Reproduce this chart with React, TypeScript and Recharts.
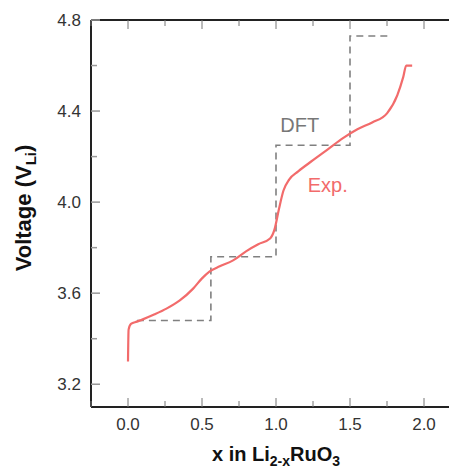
import { LineChart, Line, XAxis, YAxis, ReferenceDot, Label } from "recharts";

// measured curve (Exp.)
const expX = [0, 0.004, 0.02, 0.06, 0.1, 0.18, 0.26, 0.35, 0.44, 0.5, 0.55, 0.62, 0.71, 0.8, 0.88, 0.96, 0.99, 1.02, 1.05, 1.09, 1.15, 1.25, 1.35, 1.45, 1.55, 1.65, 1.75, 1.82, 1.86, 1.88, 1.92];
const expV = [3.3, 3.44, 3.465, 3.475, 3.485, 3.507, 3.532, 3.568, 3.62, 3.665, 3.695, 3.718, 3.744, 3.785, 3.815, 3.84, 3.88, 3.97, 4.05, 4.1, 4.135, 4.184, 4.232, 4.28, 4.32, 4.35, 4.39, 4.47, 4.55, 4.6, 4.6];

// DFT voltage steps
const dftX = [0.06, 0.56, 1.0, 1.5, 1.76];
const dftV = [3.48, 3.76, 4.25, 4.73, 4.73];

const xTicks = [-0.25, 0, 0.25, 0.5, 0.75, 1, 1.25, 1.5, 1.75, 2, 2.25];
const xMajor = [0, 0.5, 1, 1.5, 2];
const yTicks = [3.2, 3.4, 3.6, 3.8, 4.0, 4.2, 4.4, 4.6, 4.8];
const yMajor = [3.2, 3.6, 4.0, 4.4, 4.8];

const expData = expX.map((x, i) => ({ x, v: expV[i] }));
const dftData = dftX.map((x, i) => ({ x, v: dftV[i] }));

const FONT = "'Liberation Sans', Arial, sans-serif";
const RED = "#f26b6b";
const GRAY = "#808080";

const isMajor = (list: number[], v: number) => list.some((m) => Math.abs(m - v) < 1e-6);

const LeftTick = (props: any) => {
  const { x, y, payload } = props;
  const major = isMajor(yMajor, payload.value);
  return (
    <g>
      <line x1={x} x2={x + (major ? 9 : 6)} y1={y} y2={y} stroke="#999" strokeWidth={1.5} />
      {major && (
        <text x={x - 10} y={y} dy={6} textAnchor="end" fontSize={17} fill="#333" fontFamily={FONT}>
          {payload.value.toFixed(1)}
        </text>
      )}
    </g>
  );
};

const RightTick = (props: any) => {
  const { x, y, payload } = props;
  const major = isMajor(yMajor, payload.value);
  return <line x1={x - (major ? 9 : 6)} x2={x} y1={y} y2={y} stroke="#999" strokeWidth={1.5} />;
};

const BottomTick = (props: any) => {
  const { x, y, payload } = props;
  const major = isMajor(xMajor, payload.value);
  return (
    <g>
      <line x1={x} x2={x} y1={y} y2={y - (major ? 9 : 6)} stroke="#777" strokeWidth={1} />
      {major && (
        <text x={x} y={y + 23} textAnchor="middle" fontSize={17} fill="#333" fontFamily={FONT}>
          {payload.value.toFixed(1)}
        </text>
      )}
    </g>
  );
};

const TopTick = (props: any) => {
  const { x, y, payload } = props;
  const major = isMajor(xMajor, payload.value);
  return <line x1={x} x2={x} y1={y} y2={y + (major ? 9 : 6)} stroke="#777" strokeWidth={1} />;
};

const XTitle = (props: any) => {
  const { viewBox } = props;
  const cx = viewBox.x + viewBox.width / 2;
  return (
    <text x={cx} y={453} textAnchor="middle" fontSize={20} fontWeight="bold" fill="#111" fontFamily={FONT}>
      x in Li
      <tspan fontSize={14} dy={5}>2-x</tspan>
      <tspan dy={-5}>RuO</tspan>
      <tspan fontSize={14} dy={5}>3</tspan>
    </text>
  );
};

const YTitle = () => (
  <text
    x={0}
    y={0}
    transform="translate(23, 200) rotate(-90)"
    textAnchor="middle"
    fontSize={22}
    fontWeight="bold"
    fill="#111"
    fontFamily={FONT}
  >
    Voltage (V
    <tspan fontSize={15} dy={5}>Li</tspan>
    <tspan dy={-5}>)</tspan>
  </text>
);

export default function App() {
  return (
    <div style={{ width: 449, height: 460, overflow: "hidden" }}>
      <LineChart width={454} height={460} margin={{ top: 0, right: 0, bottom: 0, left: 0 }}>
        <XAxis
          xAxisId="b"
          dataKey="x"
          type="number"
          domain={[-0.25, 2.25]}
          ticks={xTicks}
          allowDataOverflow
          height={61}
          tickSize={0}
          tickMargin={0}
          tick={<BottomTick />}
          tickLine={false}
          axisLine={{ stroke: "#222", strokeWidth: 2 }}
          interval={0}
        >
          <Label content={<XTitle />} />
        </XAxis>
        <XAxis
          xAxisId="t"
          orientation="top"
          dataKey="x"
          type="number"
          domain={[-0.25, 2.25]}
          ticks={xTicks}
          allowDataOverflow
          height={12}
          tickSize={0}
          tickMargin={0}
          tick={<TopTick />}
          tickLine={false}
          axisLine={{ stroke: "#222", strokeWidth: 2 }}
          interval={0}
        />
        <YAxis
          yAxisId="l"
          type="number"
          domain={[3.1, 4.8]}
          ticks={yTicks}
          allowDataOverflow
          width={83}
          tickSize={0}
          tickMargin={0}
          tick={<LeftTick />}
          tickLine={false}
          axisLine={{ stroke: "#222", strokeWidth: 2 }}
          interval={0}
        >
          <Label content={<YTitle />} />
        </YAxis>
        <YAxis
          yAxisId="r"
          orientation="right"
          type="number"
          domain={[3.1, 4.8]}
          ticks={yTicks}
          allowDataOverflow
          width={1}
          tickSize={0}
          tickMargin={0}
          tick={<RightTick />}
          tickLine={false}
          axisLine={{ stroke: "#222", strokeWidth: 2 }}
          interval={0}
        />
        <Line
          xAxisId="b"
          yAxisId="l"
          data={dftData}
          dataKey="v"
          type="stepAfter"
          stroke={GRAY}
          strokeWidth={1.6}
          strokeDasharray="7 5"
          dot={false}
          isAnimationActive={false}
        />
        <Line
          xAxisId="t"
          yAxisId="r"
          data={expData}
          dataKey="v"
          type="monotone"
          stroke={RED}
          strokeWidth={2.2}
          dot={false}
          isAnimationActive={false}
        />
        <ReferenceDot
          xAxisId="b"
          yAxisId="l"
          x={1.16}
          y={4.338}
          r={0}
          label={{ value: "DFT", position: "center", fontSize: 20, fill: "#777", fontFamily: FONT }}
        />
        <ReferenceDot
          xAxisId="b"
          yAxisId="l"
          x={1.35}
          y={4.074}
          r={0}
          label={{ value: "Exp.", position: "center", fontSize: 20, fill: RED, fontFamily: FONT }}
        />
      </LineChart>
    </div>
  );
}
